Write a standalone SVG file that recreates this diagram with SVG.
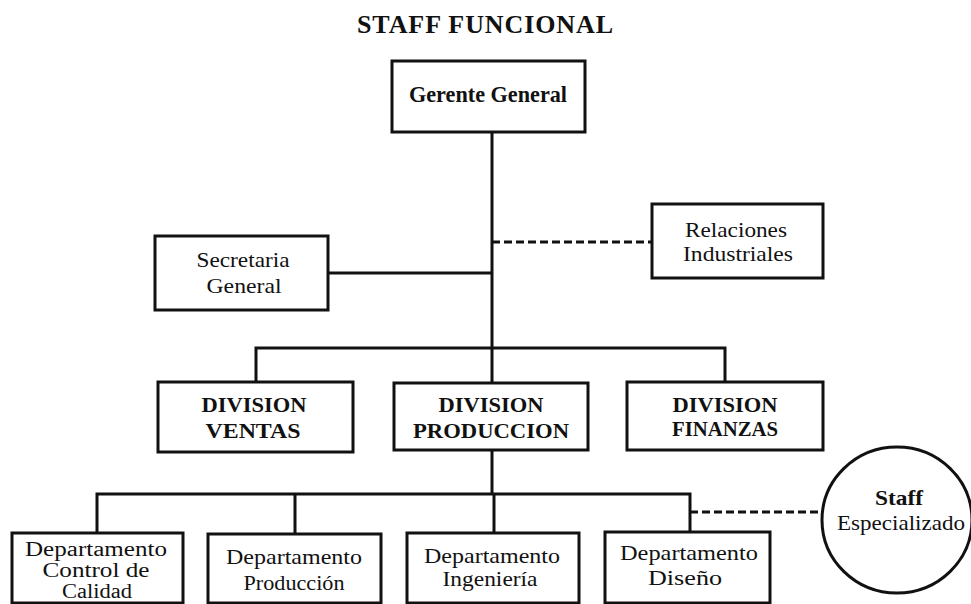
<svg xmlns="http://www.w3.org/2000/svg" width="971" height="604" viewBox="0 0 971 604">
  <style>
    .box { fill: #fff; stroke: #111; stroke-width: 3; }
    .line { fill: none; stroke: #111; stroke-width: 3; }
    .dash { fill: none; stroke: #111; stroke-width: 3; stroke-dasharray: 8 4; }
    text { font-family: "Liberation Serif", "Times New Roman", serif; fill: #111; text-anchor: middle; }
    .t { font-size: 22px; }
    .s { font-size: 20px; }
    .b { font-size: 21px; font-weight: bold; }
    .g { font-size: 24px; font-weight: bold; }
    .title { font-size: 26px; font-weight: bold; }
  </style>
  <rect width="971" height="604" fill="#fff"/>

  <text class="title" x="485" y="33" textLength="256" lengthAdjust="spacing">STAFF FUNCIONAL</text>

  <g id="connectors">
    <path class="line" d="M492 132 V383"/>
    <path class="line" d="M328 273 H492"/>
    <path class="dash" d="M492 242 H652"/>
    <path class="line" d="M256 382 V348 H725 V382"/>
    <path class="line" d="M492 450 V494"/>
    <path class="line" d="M97 533 V494 H690 V532"/>
    <path class="line" d="M295 494 V534"/>
    <path class="line" d="M494 494 V533"/>
    <path class="dash" d="M690 512 H823"/>
  </g>

  <g id="gerente-general">
    <rect class="box" x="392" y="61" width="193" height="71"/>
    <text class="g" x="488" y="102" textLength="158" lengthAdjust="spacingAndGlyphs">Gerente General</text>
  </g>

  <g id="secretaria-general">
    <rect class="box" x="155" y="236" width="173" height="74"/>
    <text class="t" x="243" y="267" textLength="93" lengthAdjust="spacingAndGlyphs">Secretaria</text>
    <text class="t" x="244" y="293" textLength="75" lengthAdjust="spacingAndGlyphs">General</text>
  </g>

  <g id="relaciones-industriales">
    <rect class="box" x="652" y="204" width="171" height="74"/>
    <text class="t" x="736" y="237" textLength="102" lengthAdjust="spacingAndGlyphs">Relaciones</text>
    <text class="t" x="738" y="261" textLength="110" lengthAdjust="spacingAndGlyphs">Industriales</text>
  </g>

  <g id="division-ventas">
    <rect class="box" x="158" y="382" width="195" height="70"/>
    <text class="b" x="254" y="412" textLength="105" lengthAdjust="spacingAndGlyphs">DIVISION</text>
    <text class="b" x="253" y="438" textLength="95" lengthAdjust="spacingAndGlyphs">VENTAS</text>
  </g>

  <g id="division-produccion">
    <rect class="box" x="394" y="383" width="194" height="67"/>
    <text class="b" x="491" y="412" textLength="105" lengthAdjust="spacingAndGlyphs">DIVISION</text>
    <text class="b" x="491" y="438" textLength="156" lengthAdjust="spacingAndGlyphs">PRODUCCION</text>
  </g>

  <g id="division-finanzas">
    <rect class="box" x="627" y="382" width="196" height="68"/>
    <text class="b" x="725" y="412" textLength="105" lengthAdjust="spacingAndGlyphs">DIVISION</text>
    <text class="b" x="725" y="436" textLength="106" lengthAdjust="spacingAndGlyphs">FINANZAS</text>
  </g>

  <g id="depto-control-calidad">
    <rect class="box" x="12" y="533" width="171" height="70"/>
    <text class="s" x="96" y="556" textLength="142" lengthAdjust="spacingAndGlyphs">Departamento</text>
    <text class="s" x="96" y="577" textLength="107" lengthAdjust="spacingAndGlyphs">Control de</text>
    <text class="s" x="97" y="598" textLength="70" lengthAdjust="spacingAndGlyphs">Calidad</text>
  </g>

  <g id="depto-produccion">
    <rect class="box" x="208" y="534" width="173" height="69"/>
    <text class="t" x="294" y="564" textLength="136" lengthAdjust="spacingAndGlyphs">Departamento</text>
    <text class="t" x="294" y="590" textLength="101" lengthAdjust="spacingAndGlyphs">Producción</text>
  </g>

  <g id="depto-ingenieria">
    <rect class="box" x="407" y="533" width="172" height="70"/>
    <text class="t" x="492" y="563" textLength="136" lengthAdjust="spacingAndGlyphs">Departamento</text>
    <text class="t" x="490" y="586" textLength="95" lengthAdjust="spacingAndGlyphs">Ingeniería</text>
  </g>

  <g id="depto-diseno">
    <rect class="box" x="605" y="532" width="165" height="71"/>
    <text class="t" x="689" y="560" textLength="138" lengthAdjust="spacingAndGlyphs">Departamento</text>
    <text class="t" x="685" y="585" textLength="74" lengthAdjust="spacingAndGlyphs">Diseño</text>
  </g>

  <g id="staff-especializado">
    <ellipse class="box" cx="897" cy="520" rx="75" ry="73"/>
    <text class="b" x="899" y="505" textLength="48" lengthAdjust="spacingAndGlyphs">Staff</text>
    <text class="t" x="901" y="530" textLength="128" lengthAdjust="spacingAndGlyphs">Especializado</text>
  </g>
</svg>
